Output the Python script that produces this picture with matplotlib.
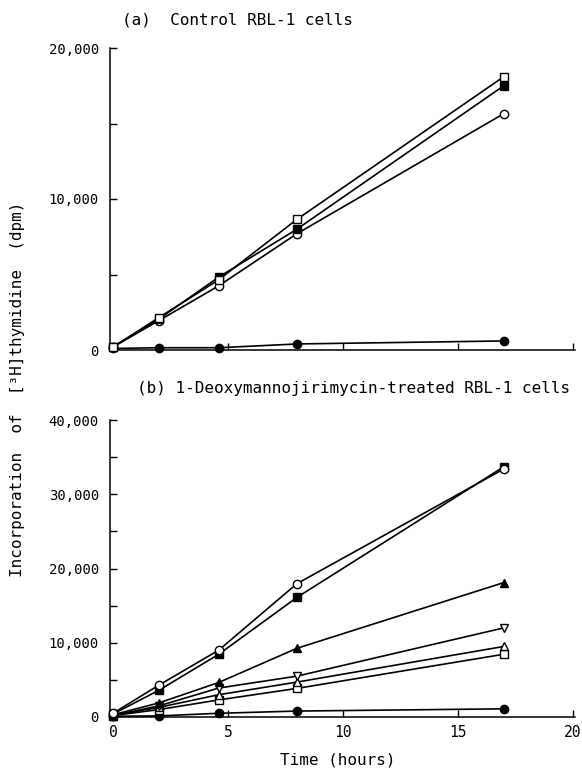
import matplotlib
matplotlib.use("Agg")
import matplotlib.pyplot as plt
from matplotlib.ticker import FuncFormatter, MultipleLocator

plt.rcParams['font.family'] = ['DejaVu Sans Mono', 'DejaVu Sans']

# ---- data ----
time_h = [0, 2, 4.6, 8, 17]

# (a) Control RBL-1 cells
a_open_square = [200, 2150, 4650, 8650, 18100]
a_filled_square = [200, 2050, 4830, 8000, 17500]
a_open_circle = [200, 1950, 4250, 7700, 15650]
a_filled_circle = [100, 150, 150, 400, 600]

# (b) 1-Deoxymannojirimycin-treated RBL-1 cells
b_open_circle = [500, 4300, 9000, 17950, 33400]
b_filled_square = [400, 3600, 8450, 16100, 33700]
b_filled_triangle = [300, 1900, 4650, 9250, 18100]
b_open_down_triangle = [200, 1500, 3900, 5500, 12000]
b_open_up_triangle = [200, 1300, 3000, 4700, 9500]
b_open_square = [200, 1000, 2300, 3850, 8450]
b_filled_circle = [100, 150, 500, 800, 1100]

x_ticks = [0, 5, 10, 15, 20]
title_a = "(a)  Control RBL-1 cells"
title_b = "(b) 1-Deoxymannojirimycin-treated RBL-1 cells"
x_label = "Time (hours)"
y_label = "Incorporation  of  [³H]thymidine  (dpm)"

W, H = 582, 768
fig = plt.figure(figsize=(W / 100, H / 100), dpi=100)

def px_rect(x0, y_top, x1, y_bot):
    return [x0 / W, 1 - y_bot / H, (x1 - x0) / W, (y_bot - y_top) / H]

ax_a = fig.add_axes(px_rect(110, 48, 575, 350))
ax_b = fig.add_axes(px_rect(110, 420, 575, 717))

fmt = FuncFormatter(lambda v, p: f"{int(v):,}")

def style(ax, ymax, major):
    ax.set_xlim(-0.13, 20.1)
    ax.set_ylim(0, ymax)
    for s in ['top', 'right']:
        ax.spines[s].set_visible(False)
    for s in ['left', 'bottom']:
        ax.spines[s].set_linewidth(1.1)
    ax.set_xticks([5, 10, 15, 20])
    ax.yaxis.set_major_locator(MultipleLocator(major))
    ax.yaxis.set_minor_locator(MultipleLocator(major / 2))
    ax.yaxis.set_major_formatter(fmt)
    ax.tick_params(axis='both', which='both', direction='in', width=1.0)
    ax.tick_params(axis='y', which='major', length=5, pad=8, labelsize=10)
    ax.tick_params(axis='y', which='minor', length=5)
    ax.tick_params(axis='x', which='major', length=5, labelsize=10.5, pad=6)

def plot(ax, y, marker, filled, ms=5.5, z=3):
    ax.plot(time_h, y, color='black', lw=1.2, marker=marker, ms=ms,
            mfc='black' if filled else 'white', mec='black', mew=1.0,
            zorder=z, clip_on=False)

style(ax_a, 20000, 10000)
ax_a.tick_params(axis='x', labelbottom=False)
plot(ax_a, a_filled_circle, 'o', True, ms=6)
plot(ax_a, a_open_circle, 'o', False, ms=6)
plot(ax_a, a_filled_square, 's', True)
plot(ax_a, a_open_square, 's', False)

style(ax_b, 40000, 10000)
ax_b.set_xticks(x_ticks)
ax_b.set_xticklabels([str(v) for v in x_ticks])
plot(ax_b, b_filled_circle, 'o', True, ms=6)
plot(ax_b, b_open_square, 's', False)
plot(ax_b, b_open_up_triangle, '^', False, ms=6)
plot(ax_b, b_open_down_triangle, 'v', False, ms=6)
plot(ax_b, b_filled_triangle, '^', True, ms=6)
plot(ax_b, b_filled_square, 's', True)
plot(ax_b, b_open_circle, 'o', False, ms=6)

fig.text(238 / W, 1 - 20 / H, title_a, ha='center', va='center', fontsize=11.5)
fig.text(354 / W, 1 - 388 / H, title_b, ha='center', va='center', fontsize=11.5)
fig.text(338 / W, 1 - 760 / H, x_label, ha='center', va='center', fontsize=11.5)
fig.text(18 / W, 1 - 389 / H, y_label, ha='center', va='center', rotation=90,
         fontsize=11.5)

fig.savefig("out.png", dpi=100)
